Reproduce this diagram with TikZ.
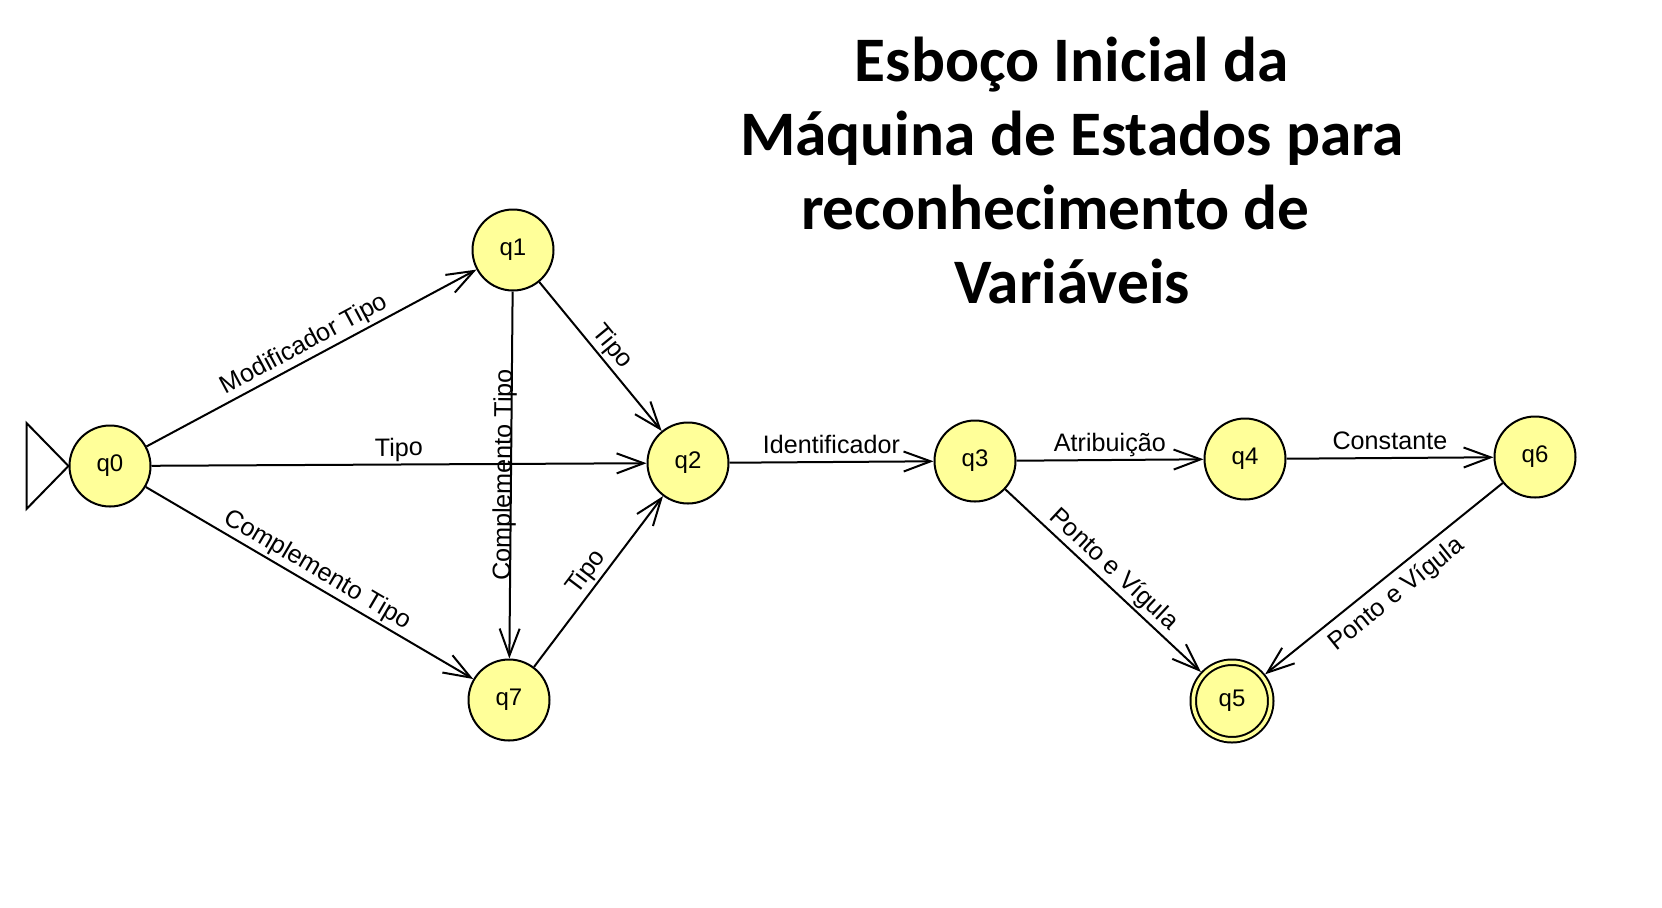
\documentclass[tikz,border=0pt]{standalone}
\usepackage{fontspec}
\setmainfont{Liberation Sans}
\newfontfamily\titlefont{Carlito}
\usetikzlibrary{arrows.meta}
\definecolor{amarelo}{RGB}{255,255,153}
\tikzset{
	estado/.style={circle, draw=black, fill=amarelo, line width=1pt, minimum size=40.5pt, inner sep=0pt, font=\fontsize{12pt}{14pt}\selectfont},
	final/.style={double=amarelo, double distance=1.75pt, minimum size=38.75pt, outer sep=1.9pt},
	seta/.style={line width=1pt, -{Straight Barb[length=13.5pt, width=10pt]}},
	rotulo/.style={font=\fontsize{12.6pt}{14pt}\selectfont, sloped, midway, text depth=0pt, inner sep=3.75pt},
	titulo/.style={font=\titlefont\bfseries\fontsize{31.7pt}{36.85pt}\selectfont, align=center},
	inicial/.style={draw=black, fill=white, line width=1pt}
}

\begin{document}
\begin{tikzpicture}[x=0.5pt, y=-0.5pt]
			%%%%% START %%%%%
			
			\useasboundingbox (0, 0) rectangle (1662, 907);
			
			\node[titulo, anchor=base] (titulo) at (1072, 303) {Esboço Inicial da\\Máquina de Estados para\\reconhecimento de\rule{16.5pt}{0pt}\\Variáveis};
			
			\node[estado] (q0) at (110, 466) {q0};
			\node[estado] (q1) at (513, 250) {q1};
			\node[estado] (q2) at (688, 463) {q2};
			\node[estado] (q7) at (509, 700) {q7};
			\node[estado] (q3) at (975, 461) {q3};
			\node[estado] (q4) at (1245, 459) {q4};
			\node[estado] (q6) at (1535, 457) {q6};
			\node[estado, final] (q5) at (1232, 701) {q5};
			
			\draw[inicial] (q0.west) -- ++(-42, -43) -- ++(0, 86) -- cycle;
			
			\draw[seta] (q0) -- node[rotulo, above] {Modificador Tipo} (q1);
			\draw[seta] (q0) -- node[rotulo, above] {Tipo} (q2);
			\draw[seta] (q0) -- node[rotulo, above] {Complemento Tipo} (q7);
			\draw[seta] (q1) -- node[rotulo, anchor=base] {Complemento Tipo} (q7);
			\draw[seta] (q1) -- node[rotulo, above] {Tipo} (q2);
			\draw[seta] (q7) -- node[rotulo, above] {Tipo} (q2);
			\draw[seta] (q2) -- node[rotulo, above] {Identificador} (q3);
			\draw[seta] (q3) -- node[rotulo, above] {Atribuição} (q4);
			\draw[seta] (q4) -- node[rotulo, above] {Constante} (q6);
			\draw[seta] (q3) -- node[rotulo, above] {Ponto e Vígula} (q5);
			\draw[seta] (q6) -- node[rotulo, below] {Ponto e Vígula} (q5);
			
			%%%%% END %%%%%
\end{tikzpicture}
\end{document}
